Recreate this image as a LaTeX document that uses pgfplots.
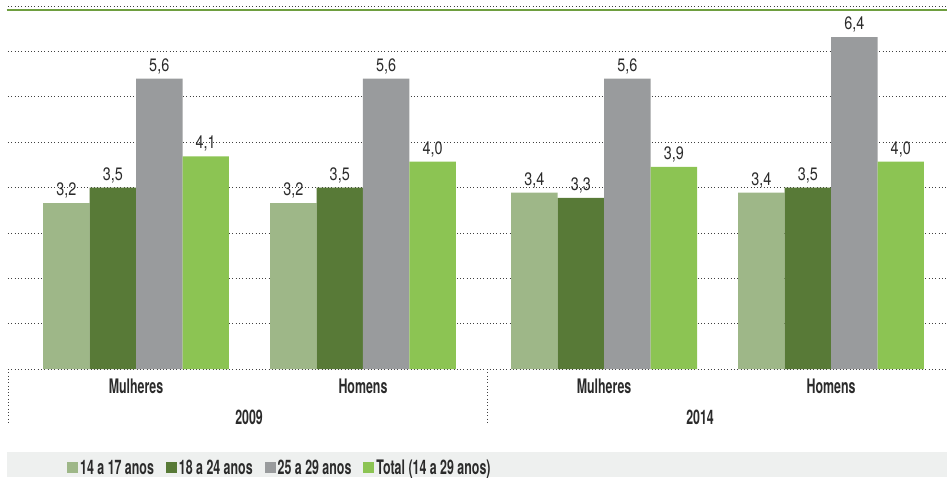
\documentclass[border=0pt]{standalone}
\usepackage{fontspec}
\setmainfont{TeX Gyre Heros}[FakeStretch=0.62]
\newfontfamily\numfont{TeX Gyre Heros}[FakeStretch=0.8]
\usepackage{pgfplots}
\pgfplotsset{compat=1.18}
\definecolor{cA}{HTML}{9EB788}
\definecolor{cB}{HTML}{587A37}
\definecolor{cC}{HTML}{999B9D}
\definecolor{cD}{HTML}{8CC453}
\definecolor{ctop}{HTML}{6E9E3F}
\definecolor{legbg}{HTML}{EEF0EF}
\definecolor{txt}{HTML}{2B2B2B}
\newcommand{\catlab}{\fontsize{20}{22}\selectfont\bfseries}
\newcommand{\vallab}{\numfont\fontsize{18}{20}\selectfont}
\tikzset{sep/.style={black!75, line width=0.7pt, dash pattern=on 0.7pt off 2.6pt}}

\begin{document}
\begin{tikzpicture}
\useasboundingbox (-8pt,-108pt) rectangle (939pt,369pt);
\fill[legbg] (-1pt,-83pt) rectangle (939pt,-108pt);
\begin{axis}[
  at={(0pt,0pt)}, anchor=south west,
  scale only axis, width=939pt, height=363pt,
  xmin=-0.564, xmax=3.573, ymin=0, ymax=7,
  axis line style={draw=none}, tick style={draw=none},
  xtick=\empty, ytick={0,0.875,1.75,2.625,3.5,4.375,5.25,6.125,7}, yticklabels={},
  ymajorgrids, grid style={sep},
  clip=false,
  bar width=0.2048,
  nodes near coords={\pgfmathprintnumber[fixed,fixed zerofill,precision=1,use comma,assume math mode=true]{\pgfplotspointmeta}},
  every node near coord/.append style={font=\vallab, text=txt, anchor=base, yshift=7.5pt, inner sep=0pt},
  legend columns=-1,
  legend image code/.code={\fill[#1] (0pt,-5.5pt) rectangle (11pt,5.5pt);},
  legend style={at={(0.0628,-0.2727)}, anchor=west, draw=none, fill=none, inner sep=0pt,
    font=\catlab, text=txt, /tikz/every even column/.append style={column sep=10pt}},
]
\addplot[ybar, bar shift=-0.3072, fill=cA, draw=none,
  every node near coord/.append style={xshift=-69.73pt}] coordinates {(0,3.2) (1,3.2) (2.062,3.4) (3.062,3.4)};
\addplot[ybar, bar shift=-0.1024, fill=cB, draw=none,
  every node near coord/.append style={xshift=-23.24pt}] coordinates {(0,3.5) (1,3.5) (2.062,3.3) (3.062,3.5)};
\addplot[ybar, bar shift=0.1024, fill=cC, draw=none,
  every node near coord/.append style={xshift=23.24pt}] coordinates {(0,5.6) (1,5.6) (2.062,5.6) (3.062,6.4)};
\addplot[ybar, bar shift=0.3072, fill=cD, draw=none,
  every node near coord/.append style={xshift=69.73pt}] coordinates {(0,4.1) (1,4.0) (2.062,3.9) (3.062,4.0)};
\legend{14 a 17 anos, 18 a 24 anos, 25 a 29 anos, Total (14 a 29 anos)}

\draw[ctop, line width=2.6pt] (axis cs:-0.57,6.923) -- (axis cs:3.573,6.923);
\draw[sep] (axis cs:-0.562,0) -- ([yshift=-56pt]axis cs:-0.562,0);
\draw[sep] (axis cs:1.546,0) -- ([yshift=-56pt]axis cs:1.546,0);
\node[font=\catlab, text=txt, anchor=base, yshift=-24.5pt] at (axis cs:0,0) {Mulheres};
\node[font=\catlab, text=txt, anchor=base, yshift=-24.5pt] at (axis cs:1,0) {Homens};
\node[font=\catlab, text=txt, anchor=base, yshift=-24.5pt] at (axis cs:2.062,0) {Mulheres};
\node[font=\catlab, text=txt, anchor=base, yshift=-24.5pt] at (axis cs:3.062,0) {Homens};
\node[font=\catlab, text=txt, anchor=base, yshift=-55pt] at (axis cs:0.498,0) {2009};
\node[font=\catlab, text=txt, anchor=base, yshift=-55pt] at (axis cs:2.485,0) {2014};
\end{axis}
\end{tikzpicture}
\end{document}
